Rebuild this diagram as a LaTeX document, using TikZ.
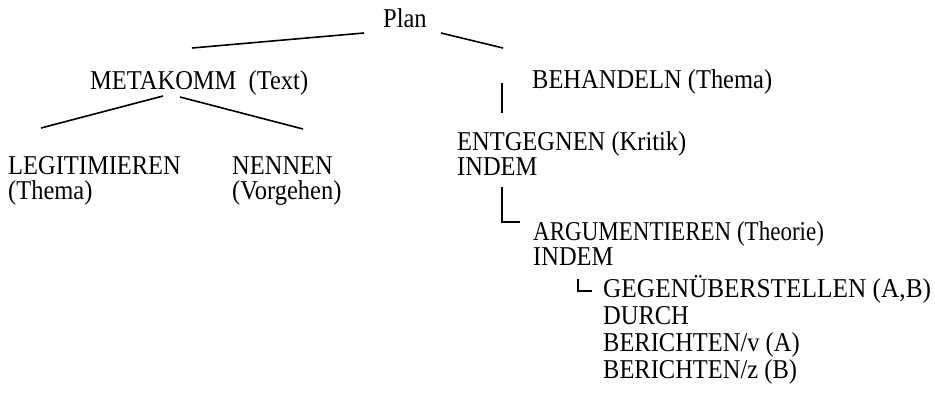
\documentclass[tikz,border=0pt]{standalone}
\usepackage{fontspec}
\setmainfont{Liberation Serif}
\newfontfamily\timesfam{Liberation Serif}[FakeStretch=0.9]
\newcommand{\linesat}[2]{\vtop{\baselineskip=#1\lineskiplimit=-1000pt\lineskip=0pt #2}}
\begin{document}
\begin{tikzpicture}[x=1pt,y=-1pt,
  txt/.style={anchor=base west, inner sep=0pt, font=\timesfam\fontsize{27.2}{27}\selectfont},
  conn/.style={line width=1.6pt}]
\useasboundingbox (0,0) rectangle (935,392);
% texts
\node[txt] (plan) at (383,27) {Plan};
\node[txt] (meta) at (90,89) {METAKOMM\ \ (Text)};
\node[txt] (behandeln) at (532,88) {BEHANDELN (Thema)};
\node[txt] (legit) at (8,174.5) {\linesat{25pt}{\hbox{LEGITIMIEREN}\hbox{(Thema)}}};
\node[txt] (nennen) at (232,174.5) {\linesat{25pt}{\hbox{NENNEN}\hbox{(Vorgehen)}}};
\node[txt] (entg) at (457,150) {\linesat{25pt}{\hbox{ENTGEGNEN (Kritik)}\hbox{INDEM}}};
\node[txt] (arg) at (533,240) {\linesat{25pt}{\hbox{\scalebox{0.94}[1]{ARGUMENTIEREN (Theorie)}}\hbox{INDEM}}};
\node[txt] (geg) at (603,297) {\linesat{27.3pt}{\hbox{\scalebox{1.035}[1]{GEGENÜBERSTELLEN (A,B)}}\hbox{DURCH}\hbox{BERICHTEN/v (A)}\hbox{BERICHTEN/z (B)}}};
% connector end points
\coordinate (planL) at (364,33);
\coordinate (metaT) at (192,48);
\coordinate (planR) at (441,33);
\coordinate (behT) at (503,48);
\coordinate (metaBL) at (163,96);
\coordinate (legitT) at (41,128);
\coordinate (metaBR) at (180,97);
\coordinate (nennenT) at (303,129);
\coordinate (behB) at (502,83);
\coordinate (entgT) at (502,113);
\coordinate (entgB) at (502,187);
\coordinate (argL) at (520,222);
\coordinate (argB) at (578,279);
\coordinate (gegL) at (592,291);
% connectors
\draw[conn] (planL) -- (metaT);
\draw[conn] (planR) -- (behT);
\draw[conn] (metaBL) -- (legitT);
\draw[conn] (metaBR) -- (nennenT);
\draw[conn] (behB) -- (entgT);
\draw[conn] (entgB) |- (argL);
\draw[line width=1.2pt] (argB) |- (gegL);
\end{tikzpicture}
\end{document}
